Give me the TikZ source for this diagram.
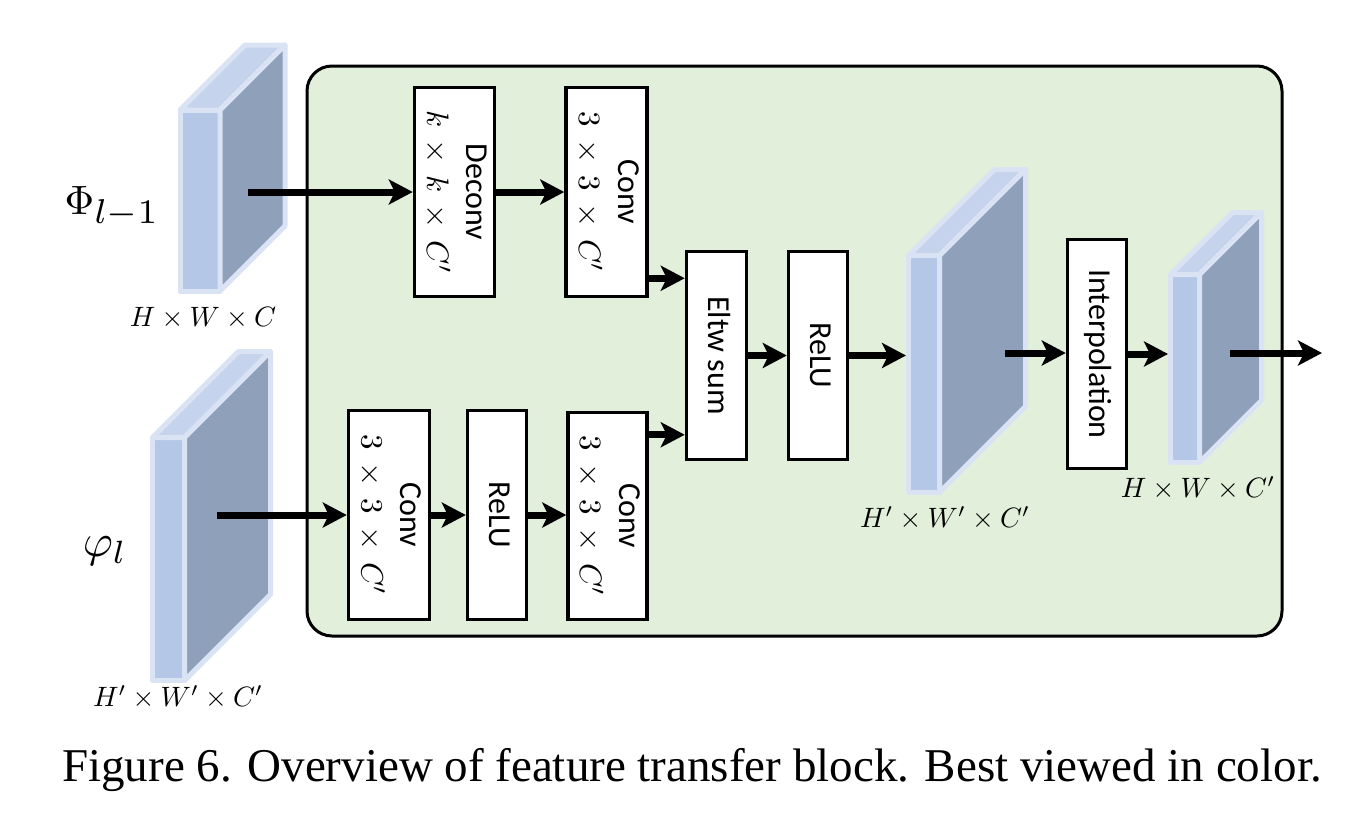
\documentclass[tikz,border=0pt]{standalone}
\usepackage[no-math]{fontspec}
\setmainfont{Liberation Serif}
\setsansfont{Carlito}
\usepackage{tikz}
\usetikzlibrary{positioning}
\usetikzlibrary{calc}
\usetikzlibrary{arrows.meta}

\definecolor{boxgreen}{HTML}{E2EFDA}
\definecolor{mapedge}{HTML}{DAE3F3}
\definecolor{mapfront}{HTML}{B4C7E7}
\definecolor{maptop}{HTML}{C5D4EC}
\definecolor{mapside}{HTML}{8FA0BA}

\tikzset{
  featedge/.style={draw=mapedge, line width=5pt, line join=round},
  blk/.style={draw, line width=3.5pt, fill=white, inner sep=0pt,
    font=\sffamily\fontsize{32}{39}\selectfont},
  arr/.style={line width=7pt, -{Stealth[length=24pt,width=25pt,inset=6pt]}},
}

% name, left, top, width, height, depth
\newcommand{\featmap}[6]{%
  \filldraw[featedge, fill=mapfront] (#2,#3) rectangle ++(#4,#5);
  \filldraw[featedge, fill=maptop] (#2,#3) -- ++(#6,-#6) -- ++(#4,0) -- ++(-#6,#6) -- cycle;
  \filldraw[featedge, fill=mapside] ({#2+#4},#3) -- ++(#6,-#6) -- ++(0,#5) -- ++(-#6,#6) -- cycle;
  \coordinate (#1) at (#2,#3);
}
\newcommand{\vtxt}[1]{\rotatebox{-90}{\begin{tabular}{@{}c@{}}#1\end{tabular}}}
\newcommand{\bigmath}[2]{\scalebox{#1}{\normalsize$#2$}}
\newcommand{\boxmath}[1]{\scalebox{3.1}{\normalsize\medmuskip=7mu$#1$}}

\begin{document}
\begin{tikzpicture}[x=1pt, y=-1pt]
\useasboundingbox (0,0) rectangle (1370,838);
\filldraw[fill=boxgreen, line width=3pt, rounded corners=25pt] (307,66) rectangle (1282,636);

\foreach \n/\x/\y/\w/\h/\d in {m1/180/110/40/181/65, m2/152.5/437.5/32/243/86,
    m3/908.5/255.5/31/237/86, m4/1170.5/274.5/29/188/62}
  {\featmap{\n}{\x}{\y}{\w}{\h}{\d}}

\node[blk, minimum width=80pt, minimum height=209pt] (deconv) at (454.5,192) {\vtxt{Deconv\\\boxmath{k\times k\times C'}}};
\node[blk, minimum width=81pt, minimum height=209pt] (convt) at (606.5,192) {\vtxt{Conv\\\boxmath{3\times 3\times C'}}};
\node[blk, minimum width=81pt, minimum height=209pt] (convb) at (389,515) {\vtxt{Conv\\\boxmath{3\times 3\times C'}}};
\node[blk, minimum width=59pt, minimum height=209pt] (relub) at (497,515) {\vtxt{ReLU}};
\node[blk, minimum width=79pt, minimum height=207pt] (convc) at (607.5,516) {\vtxt{Conv\\\boxmath{3\times 3\times C'}}};
\node[blk, minimum width=60pt, minimum height=208pt] (eltw) at (716.5,355.5) {\vtxt{Eltw sum}};
\node[blk, minimum width=59pt, minimum height=208pt] (relum) at (818,355.5) {\vtxt{ReLU}};
\node[blk, minimum width=59pt, minimum height=229pt] (interp) at (1097,354) {\vtxt{Interpolation}};

\coordinate (m1out) at (248,192);
\coordinate (m2out) at (217,515);
\coordinate (m3in) at (906,353);
\coordinate (m3out) at (1005,353);
\coordinate (m4in) at (1168,353);
\coordinate (m4out) at (1230,353);
\coordinate (out) at (1322,353);

\draw[arr] (m1out) -- (m1out -| deconv.west);
\draw[arr] (deconv) -- (convt);
\draw[arr] (m2out) -- (m2out -| convb.west);
\draw[arr] (convb) -- (relub);
\draw[arr] (relub.east) -- (relub.east -| convc.west);
\draw[arr] ($(convt.south east)+(0,-20)$) coordinate (t1) -- (t1 -| eltw.west);
\draw[arr] ($(convc.north east)+(0,24)$) coordinate (t2) -- (t2 -| eltw.west);
\draw[arr] (eltw) -- (relum);
\draw[arr] (relum.east) -- (relum.east -| m3in);
\draw[arr] (m3out) -- (m3out -| interp.west);
\draw[arr] (interp.east) -- (interp.east -| m4in);
\draw[arr] (m4out) -- (out);

\node (phi) at (112,207) {\bigmath{4.1}{\Phi_{\scalebox{1.2}{$\scriptstyle l-1$}}}};
\node (vphi) at (105,551) {\bigmath{4.6}{\varphi_l}};
\node (l1) at (203,318) {\bigmath{2.8}{H\times W\times C}};
\node (l2) at (178,697) {\bigmath{2.8}{H'\times W'\times C'}};
\node (l3) at (945,518) {\bigmath{2.8}{H'\times W'\times C'}};
\node (l4) at (1198,488) {\bigmath{2.8}{H\times W\times C'}};

\node[font=\fontsize{47}{54}\selectfont] (cap) at (692,770) {Figure 6. Overview of feature transfer block. Best viewed in color.};
\end{tikzpicture}
\end{document}
